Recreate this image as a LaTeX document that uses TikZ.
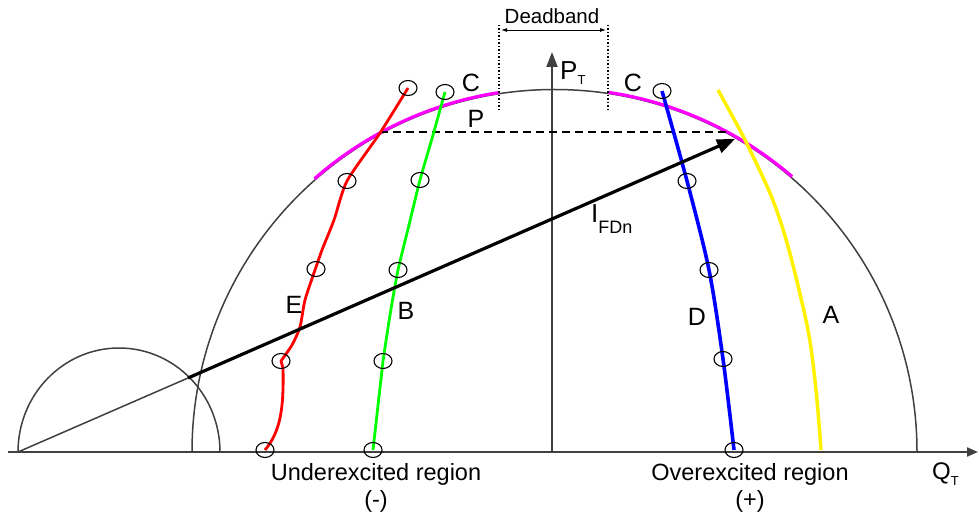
\documentclass[tikz,border=0pt]{standalone}
\usepackage{fontspec}
\setmainfont{Liberation Sans}
\usetikzlibrary{arrows.meta,shapes.geometric}
\definecolor{limitmag}{RGB}{255,0,255}

\begin{document}
\begin{tikzpicture}[x=1pt, y=-1pt,
    axisline/.style={draw=black!75, line width=2pt},
    halfcirc/.style={draw=black!75, line width=1.5pt},
    limitarc/.style={draw=limitmag, line width=3.2pt},
    markc/.style={ellipse, draw=black, line width=1.1pt, minimum width=18pt,
      minimum height=15pt, inner sep=0pt},
    curvelbl/.style={font=\fontsize{25}{29}\selectfont, inner sep=0pt},
    regionlbl/.style={font=\fontsize{23.5}{27}\selectfont, inner sep=0pt, anchor=base}]
  \def\cx{554.5} % centrul semicercului mare
  \def\R{362.5}  % raza semicercului mare
  \useasboundingbox (0,0) rectangle (979,518);
  % Puncte de referinta
  \coordinate (qstart) at (8,452);
  \coordinate (qend)   at (978,452);
  \coordinate (origin) at (552,452);
  \coordinate (pend)   at (552,52);
  \coordinate (istart) at (18,452);
  \coordinate (ibreak) at (188,378);
  \coordinate (itip)   at (735,139);
  % Semicercuri
  \draw[halfcirc] (\cx-\R,452) arc[start angle=-180, end angle=0, radius=\R];
  \draw[halfcirc] (istart) arc[start angle=-180, end angle=0, x radius=101, y radius=104];
  % Arce magenta (limita)
  \draw[limitarc] (\cx,452) ++(-131.3:\R+1.2) arc[start angle=-131.3, end angle=-98.7, radius=\R+1.2];
  \draw[limitarc] (\cx,452) ++(-81.5:\R+1.2) arc[start angle=-81.5, end angle=-49.2, radius=\R+1.2];
  % Axe
  \draw[axisline, -{Triangle[length=11pt, width=9pt]}] (qstart) -- (qend);
  \draw[axisline, -{Triangle[length=15pt, width=11pt]}] (origin) -- (pend);
  % Banda moarta
  \coordinate (dbl) at (499,25);
  \coordinate (dbr) at (608,25);
  \draw[dotted, line width=1.5pt] (dbl) -- (499,112);
  \draw[dotted, line width=1.5pt] (dbr) -- (608,112);
  \draw[{Latex[length=6pt, width=4pt]}-{Latex[length=6pt, width=4pt]}, line width=0.9pt]
    (501,30) -- (606,30);
  \node[font=\fontsize{20.5}{24}\selectfont, inner sep=0pt] (dbtxt) at (552,16) {Deadband};
  % Linie orizontala intrerupta
  \draw[line width=1.8pt, dash pattern=on 8pt off 5pt] (380,132) -- (730,132);
  % Curbe
  \draw[yellow, line width=3.5pt] plot[smooth] coordinates
    {(718,90) (745,140) (772,198) (789,250) (808,330) (816,390) (821,450)};
  \draw[red, line width=2.8pt, line join=round] plot[smooth, tension=0.4] coordinates
    {(408,88) (380,133) (347,181) (334,220) (322,250) (315,270) (305,300) (300,327) (292,345) (281,361)}
    -- (283,368) .. controls (284,410) and (280,432) .. (265,450);
  \draw[green, line width=2.8pt] plot[smooth, tension=0.4] coordinates
    {(445,92) (433,135) (420,180) (409,225) (398,270) (390,315) (383,361)} -- (373,450);
  \draw[blue, line width=3.6pt] plot[smooth, tension=0.5] coordinates
    {(662,91) (687,181) (709,270) (723,359) (734,450)};
  % Fazor curent
  \draw[black!75, line width=1.5pt] (istart) -- (ibreak);
  \draw[line width=3.2pt, -{Triangle[length=18pt, width=14pt]}] (ibreak) -- (itip);
  % Cercuri de marcaj
  \foreach \n/\p in {r1/{(408,88)}, r2/{(347,181)}, r3/{(316,269)}, r4/{(281,361)}, r5/{(265,450)},
                     g1/{(445,92)}, g2/{(420,180)}, g3/{(398,270)}, g4/{(383,361)}, g5/{(373,450)},
                     b1/{(662,91)}, b2/{(687,181)}, b3/{(709,270)}, b4/{(723,359)}, b5/{(734,450)}} {
    \node[markc] (\n) at \p {};
  }
  % Etichete curbe
  \node[curvelbl] (lblcl) at (471,83)  {C};
  \node[curvelbl] (lblcr) at (633,83)  {C};
  \node[curvelbl] (lblp)  at (476,119) {P};
  \node[curvelbl] (lble)  at (294,305) {E};
  \node[curvelbl] (lblb)  at (406,311) {B};
  \node[curvelbl] (lbld)  at (697,317) {D};
  \node[curvelbl] (lbla)  at (831,315) {A};
  % Etichete axe si fazor
  \node[font=\fontsize{26}{30}\selectfont, inner sep=0pt, anchor=base west] (lblpt) at (560,80)
    {P\raisebox{-5pt}{\fontsize{13}{15}\selectfont T}};
  \node[font=\fontsize{24}{28}\selectfont, inner sep=0pt, anchor=base west] (lblqt) at (932,479)
    {Q\raisebox{-6pt}{\fontsize{13}{15}\selectfont T}};
  \node[font=\fontsize{26}{30}\selectfont, inner sep=0pt, anchor=base west] (lblifd) at (591,223)
    {I\raisebox{-11pt}{\fontsize{18}{21}\selectfont FDn}};
  % Regiuni
  \node[regionlbl] (under)   at (376,480) {Underexcited region};
  \node[regionlbl] (underpm) at (376,507) {(-)};
  \node[regionlbl] (over)    at (750,480) {Overexcited region};
  \node[regionlbl] (overpm)  at (750,507) {(+)};
\end{tikzpicture}
\end{document}
